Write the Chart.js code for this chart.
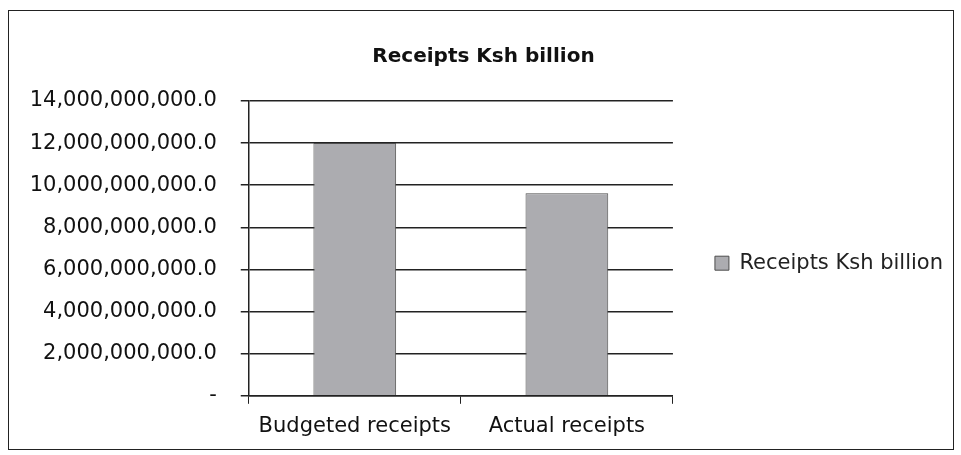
<!DOCTYPE html>
<html>
<head>
<meta charset="utf-8">
<script src="https://cdn.jsdelivr.net/npm/chart.js@4"></script>
<style>
  html, body { margin: 0; padding: 0; background: #fff; }
  #wrap { position: absolute; left: 8px; top: 10px; width: 946px; height: 440px; border: 1.5px solid #222; box-sizing: border-box; }
  canvas { display: block; }
</style>
</head>
<body>
<div id="wrap"><canvas id="c"></canvas></div>
<script>
const categories = ["Budgeted receipts", "Actual receipts"];
const seriesName = "Receipts Ksh billion";
const receipts = [12000000000, 9620000000];
const yMax = 14000000000;
const yStep = 2000000000;

const fontFamily = "'DejaVu Sans', sans-serif";

function fmt(v) {
  if (v === 0) return "-";
  return v.toLocaleString("en-US", { minimumFractionDigits: 1, maximumFractionDigits: 1 });
}

new Chart(document.getElementById("c"), {
  type: "bar",
  data: {
    labels: categories,
    datasets: [{
      label: seriesName,
      data: receipts,
      backgroundColor: "#acacb0",
      borderColor: "#4d4d4d",
      borderWidth: 1,
      categoryPercentage: 1.0,
      barPercentage: 0.39
    }]
  },
  options: {
    responsive: true,
    maintainAspectRatio: false,
    animation: false,
    devicePixelRatio: 1,
    layout: { padding: { top: 12, left: 5, right: 0, bottom: 0 } },
    plugins: {
      title: {
        display: true,
        text: seriesName,
        color: "#111",
        font: { family: fontFamily, size: 20, weight: "bold" },
        padding: { top: 22, bottom: 32 }
      },
      legend: {
        position: "right",
        maxWidth: 320,
        title: {
          display: true,
          text: "",
          font: { size: 12 },
          padding: { top: 20, bottom: 20 }
        },
        labels: {
          color: "#222",
          font: { family: fontFamily, size: 21 },
          boxWidth: 14,
          boxHeight: 14,
          padding: 42
        }
      },
      tooltip: { enabled: false }
    },
    scales: {
      x: {
        grid: { display: true, drawOnChartArea: false, drawTicks: true, tickLength: 8, color: "#222", offset: true },
        border: { display: true, color: "#222", width: 1.5 },
        ticks: { color: "#111", font: { family: fontFamily, size: 21 }, padding: 10 }
      },
      y: {
        min: 0,
        max: yMax,
        ticks: {
          stepSize: yStep,
          color: "#111",
          font: { family: fontFamily, size: 21 },
          padding: 24,
          callback: (v) => fmt(v)
        },
        grid: { color: "#222", lineWidth: 1.5, drawTicks: true, tickLength: 8 },
        border: { display: true, color: "#222", width: 1.5 }
      }
    }
  }
});
</script>
</body>
</html>
